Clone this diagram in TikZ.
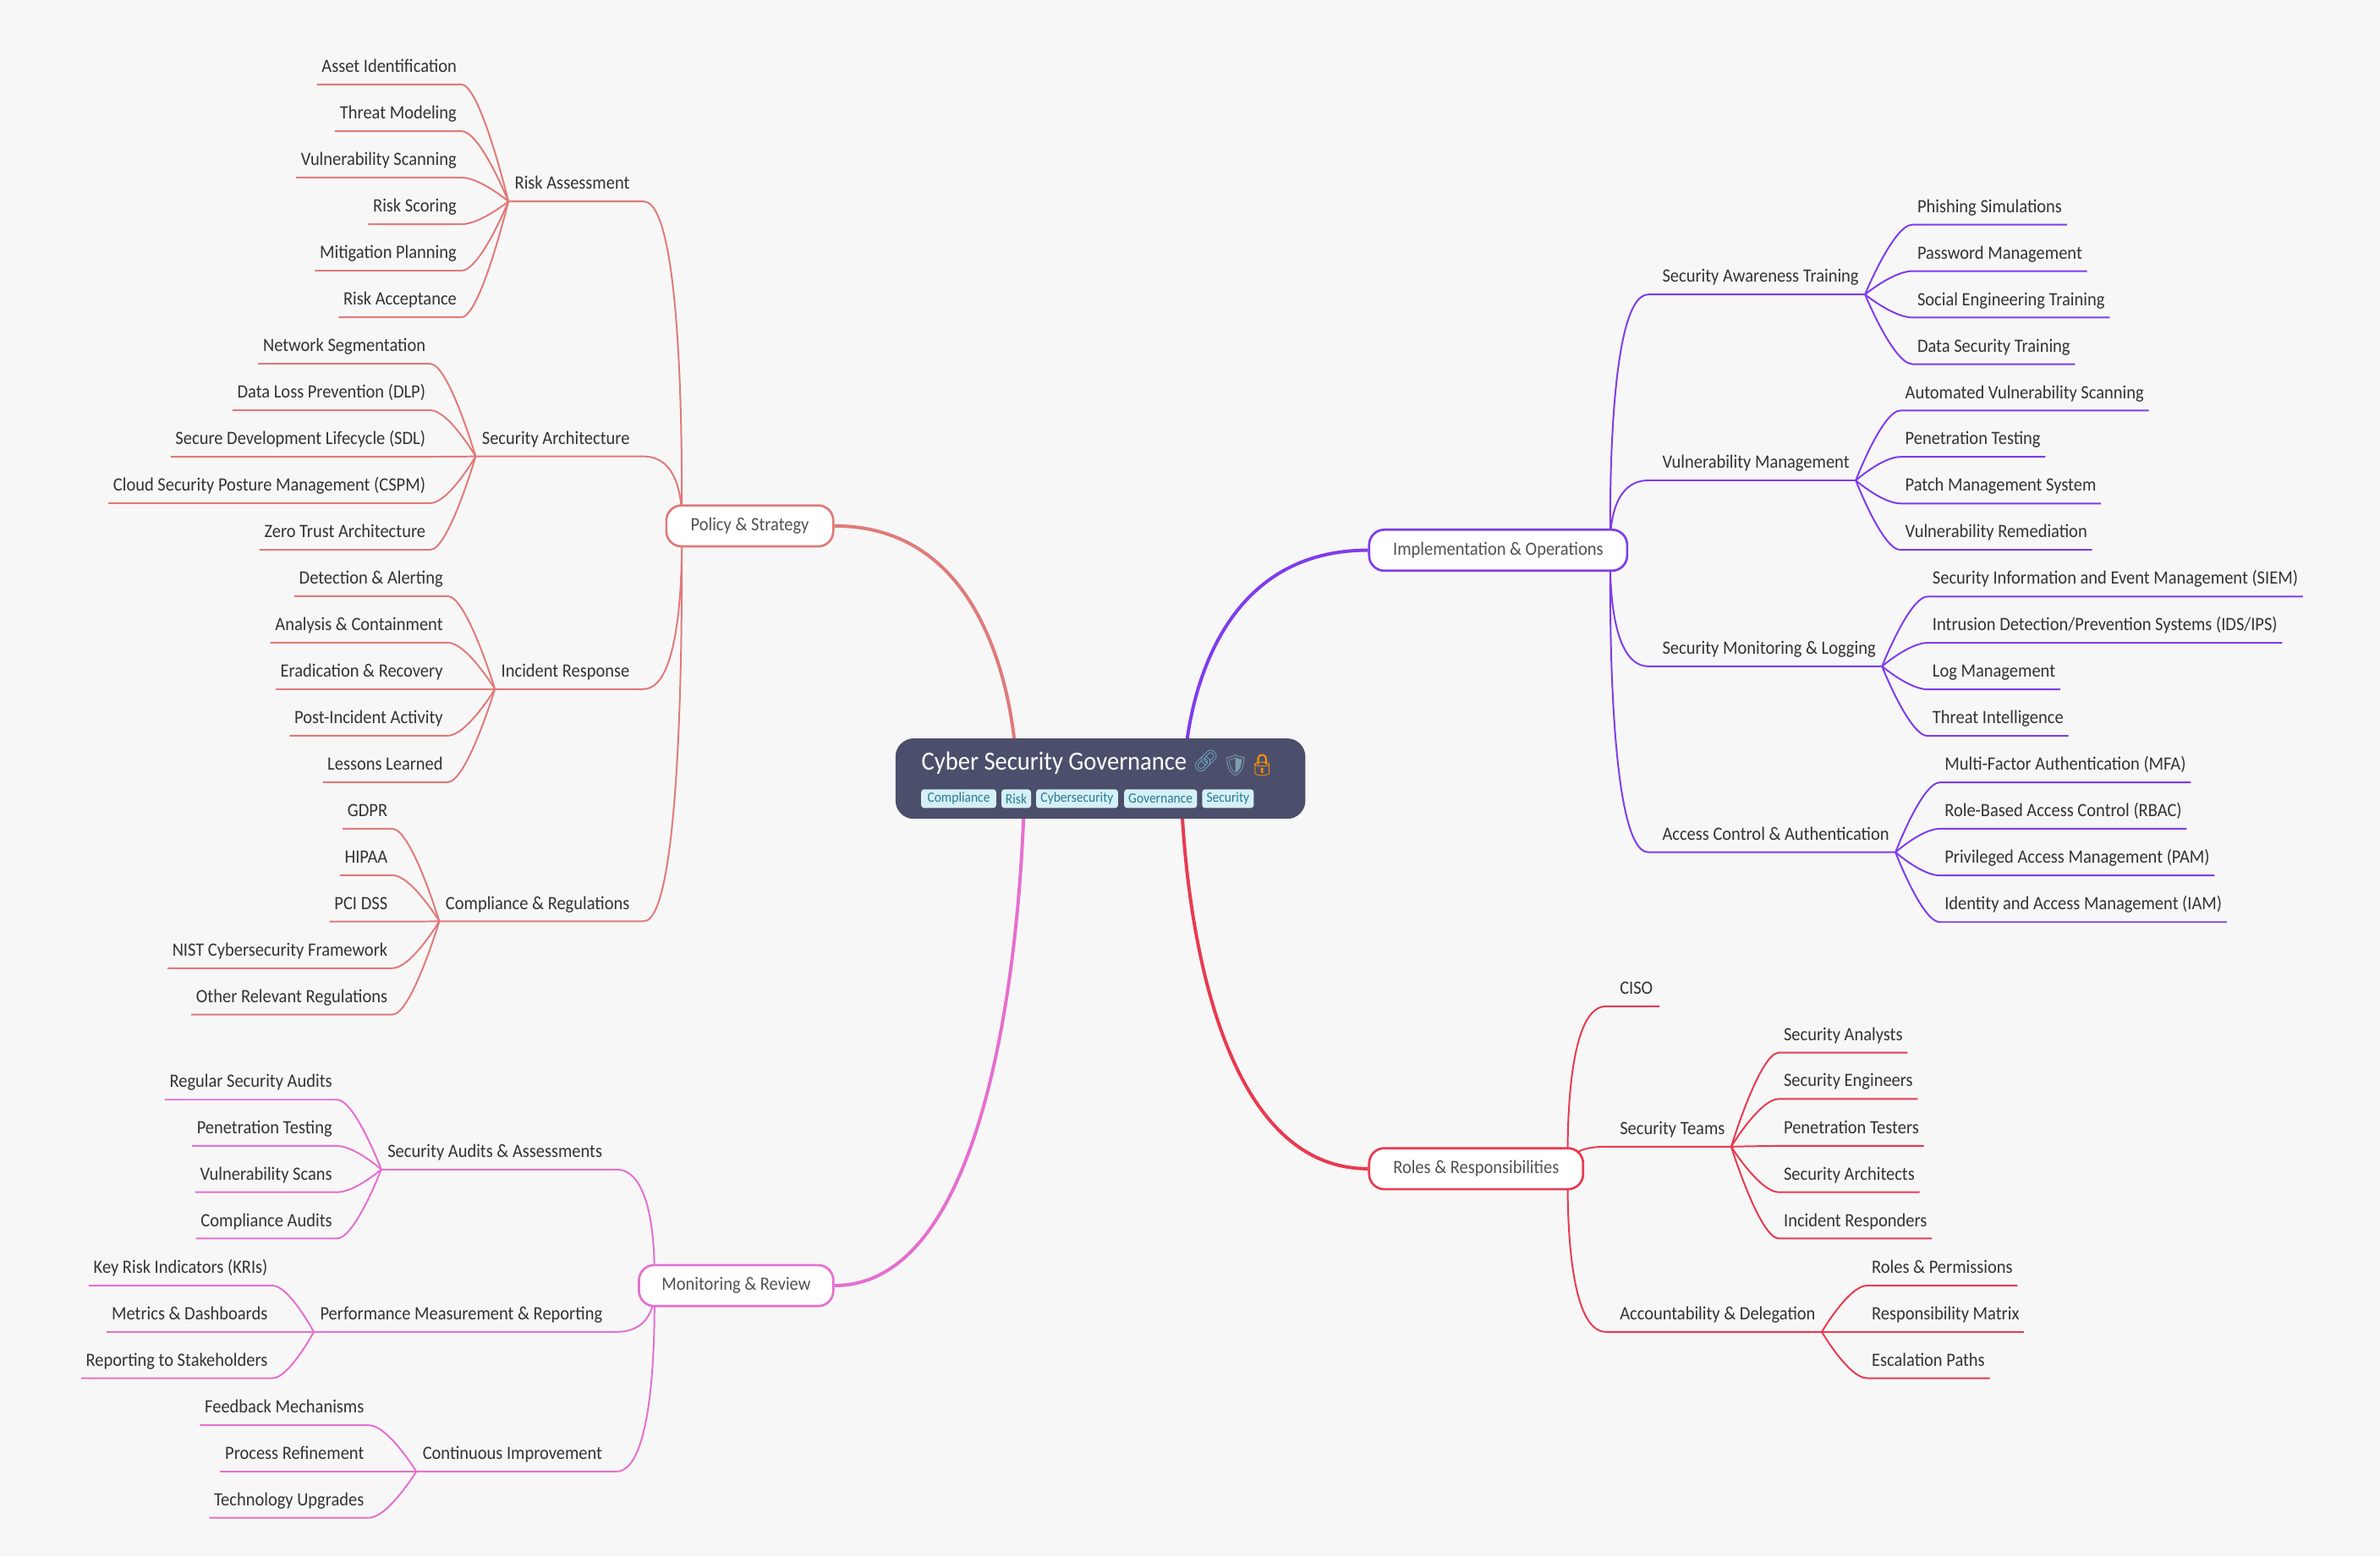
\documentclass[tikz,border=0pt]{standalone}
\usepackage{fontspec}
\setmainfont[FakeStretch=0.92]{Carlito}
\newfontfamily\emojifont{Noto Emoji}
\usetikzlibrary{calc,backgrounds}
\definecolor{pagebg}{HTML}{F7F7F7}
\definecolor{policyred}{HTML}{E07A7A}
\definecolor{implpurple}{HTML}{7F3CEB}
\definecolor{rolescrimson}{HTML}{E83A50}
\definecolor{monitorpink}{HTML}{E56FCF}
\definecolor{rootfill}{HTML}{4C4F6B}
\definecolor{tagfill}{HTML}{D5F0F7}
\definecolor{tagtext}{HTML}{2A7A90}
\definecolor{labeltext}{HTML}{333333}
\tikzset{
  limb/.style={to path={.. controls (\tikztostart) and ($(\tikztotarget)!#1!(\tikztostart |- \tikztotarget)$) .. (\tikztotarget)}},
  limb/.default=0.4,
  twig/.style={line width=1.1pt},
  bough/.style={line width=2.2pt},
  label/.style={font=\fontsize{12.4}{14}\selectfont,text=labeltext,text height=10pt,text depth=4pt,inner ysep=3.8pt,inner xsep=0pt},
  leafl/.style={label,anchor=south east,inner xsep=3pt},
  leafr/.style={label,anchor=south west,inner xsep=3pt},
  midl/.style={label,anchor=south east,inner xsep=4pt,execute at end node={\hspace{5pt}}},
  midr/.style={label,anchor=south west,inner xsep=4pt,execute at begin node={\hspace*{5pt}}},
  mainbox/.style={draw,fill=white,rounded corners=10pt,line width=1.5pt,minimum height=27pt,inner sep=0pt,text=labeltext!85!white,font=\fontsize{12.4}{14}\selectfont},
  tagbox/.style={fill=tagfill,text=tagtext,rounded corners=2pt,minimum height=12.3pt,inner sep=0pt,font=\fontsize{9.4}{10}\selectfont},
  emoji/.style={inner sep=0pt,font=\emojifont\fontsize{14}{14}\selectfont}
}
\begin{document}
\begin{tikzpicture}[x=1pt,y=-1pt]
    \useasboundingbox (0,0) rectangle (1568,1025.28);

    %Centre
    \node[fill=rootfill,rounded corners=12pt,minimum width=270pt,minimum height=53pt] (root) at (725,513) {};
    \node[anchor=west,inner sep=0pt,text=white,font=\fontsize{17.3}{19}\selectfont] (title) at (607,503) {Cyber Security Governance};
    \node[emoji,text=cyan!45!gray] (linkicon) at (794.5,501.5) {🔗};
    \node[emoji,text=gray!70!cyan] (shieldicon) at (814,504) {🛡};
    \node[emoji,text=orange!85!yellow] (lockicon) at (831.5,504) {🔒};
    \node[tagbox,minimum width=49.5pt] (tagcompliance) at (631.6,526.2) {Compliance};
    \node[tagbox,minimum width=19.5pt] (tagrisk) at (669.5,526.2) {Risk};
    \node[tagbox,minimum width=54pt] (tagcyber) at (709.6,526.2) {Cybersecurity};
    \node[tagbox,minimum width=48pt] (taggov) at (764.6,526.2) {Governance};
    \node[tagbox,minimum width=34pt] (tagsecurity) at (809,526.2) {Security};

    %Grands noeuds
    \node[mainbox,draw=policyred,minimum width=110pt] (policy) at (494,346.5) {Policy \& Strategy};
    \node[mainbox,draw=implpurple,minimum width=170pt] (impl) at (987,362.5) {Implementation \& Operations};
    \node[mainbox,draw=rolescrimson,minimum width=141pt] (roles) at (972.5,770) {Roles \& Responsibilities};
    \node[mainbox,draw=monitorpink,minimum width=128pt] (monitor) at (485,847) {Monitoring \& Review};
    \coordinate (policyroot) at (449,346.5);
    \coordinate (implroot) at (1061,362.5);
    \coordinate (rolesroot) at (1033,770);
    \coordinate (monitorroot) at (431,847);
    \coordinate (rootpolicy) at (670,512);
    \coordinate (rootimpl) at (780,512);
    \coordinate (rootroles) at (778,512);
    \coordinate (rootmonitor) at (675,512);

    %Policy
    \node[midl] (riskassess) at (424,132.7) {Risk Assessment};
    \node[midl] (secarch) at (424,300.7) {Security Architecture};
    \node[midl] (incident) at (424,454) {Incident Response};
    \node[midl] (compreg) at (424,607) {Compliance \& Regulations};
    \node[leafl] (asset) at (304,55.7) {Asset Identification};
    \node[leafl] (threatmodel) at (304,86.4) {Threat Modeling};
    \node[leafl] (vulnscan) at (304,117) {Vulnerability Scanning};
    \node[leafl] (riskscore) at (304,147.7) {Risk Scoring};
    \node[leafl] (mitigation) at (304,178.3) {Mitigation Planning};
    \node[leafl] (riskaccept) at (304,209) {Risk Acceptance};
    \node[leafl] (netseg) at (283.5,239.7) {Network Segmentation};
    \node[leafl] (dlp) at (283.5,270.3) {Data Loss Prevention (DLP)};
    \node[leafl] (sdl) at (283.5,300.9) {Secure Development Lifecycle (SDL)};
    \node[leafl] (cspm) at (283.5,331.5) {Cloud Security Posture Management (CSPM)};
    \node[leafl] (zerotrust) at (283.5,362.2) {Zero Trust Architecture};
    \node[leafl] (detection) at (295,392.8) {Detection \& Alerting};
    \node[leafl] (analysis) at (295,423.4) {Analysis \& Containment};
    \node[leafl] (eradication) at (295,454) {Eradication \& Recovery};
    \node[leafl] (postinc) at (295,484.7) {Post-Incident Activity};
    \node[leafl] (lessons) at (295,515.3) {Lessons Learned};
    \node[leafl] (gdpr) at (258.5,546) {GDPR};
    \node[leafl] (hipaa) at (258.5,576.6) {HIPAA};
    \node[leafl] (pcidss) at (258.5,607.2) {PCI DSS};
    \node[leafl] (nist) at (258.5,637.9) {NIST Cybersecurity Framework};
    \node[leafl] (otherreg) at (258.5,668.5) {Other Relevant Regulations};

    %Monitoring
    \node[midl] (audits) at (406,770.5) {Security Audits \& Assessments};
    \node[midl] (perf) at (406,877.5) {Performance Measurement \& Reporting};
    \node[midl] (contimp) at (406,969.5) {Continuous Improvement};
    \node[leafl] (regaudits) at (222,724.5) {Regular Security Audits};
    \node[leafl] (pentestl) at (222,755) {Penetration Testing};
    \node[leafl] (vulnscans) at (222,785.5) {Vulnerability Scans};
    \node[leafl] (compaudits) at (222,816) {Compliance Audits};
    \node[leafl] (kri) at (179.5,847) {Key Risk Indicators (KRIs)};
    \node[leafl] (metrics) at (179.5,877.5) {Metrics \& Dashboards};
    \node[leafl] (stakeholders) at (179.5,908) {Reporting to Stakeholders};
    \node[leafl] (feedback) at (243,939) {Feedback Mechanisms};
    \node[leafl] (refine) at (243,969.5) {Process Refinement};
    \node[leafl] (upgrades) at (243,1000) {Technology Upgrades};

    %Implementation
    \node[midr] (awareness) at (1086,194) {Security Awareness Training};
    \node[midr] (vulnman) at (1086,316.5) {Vulnerability Management};
    \node[midr] (seclog) at (1086,439) {Security Monitoring \& Logging};
    \node[midr] (access) at (1086,561.5) {Access Control \& Authentication};
    \node[leafr] (phishing) at (1260,148) {Phishing Simulations};
    \node[leafr] (password) at (1260,178.6) {Password Management};
    \node[leafr] (social) at (1260,209.2) {Social Engineering Training};
    \node[leafr] (datasec) at (1260,239.9) {Data Security Training};
    \node[leafr] (autoscan) at (1252,270.5) {Automated Vulnerability Scanning};
    \node[leafr] (pentestr) at (1252,301) {Penetration Testing};
    \node[leafr] (patch) at (1252,331.7) {Patch Management System};
    \node[leafr] (remediation) at (1252,362.3) {Vulnerability Remediation};
    \node[leafr] (siem) at (1270,393) {Security Information and Event Management (SIEM)};
    \node[leafr] (ids) at (1270,423.5) {Intrusion Detection/Prevention Systems (IDS/IPS)};
    \node[leafr] (logman) at (1270,454.2) {Log Management};
    \node[leafr] (threatintel) at (1270,484.9) {Threat Intelligence};
    \node[leafr] (mfa) at (1278,515.5) {Multi-Factor Authentication (MFA)};
    \node[leafr] (rbac) at (1278,546) {Role-Based Access Control (RBAC)};
    \node[leafr] (pam) at (1278,576.8) {Privileged Access Management (PAM)};
    \node[leafr] (iam) at (1278,607.5) {Identity and Access Management (IAM)};

    %Roles
    \node[leafr,inner xsep=4pt,execute at begin node={\hspace*{5pt}}] (ciso) at (1058,663) {CISO};
    \node[midr] (teams) at (1058,755.5) {Security Teams};
    \node[midr] (delegation) at (1058,877.5) {Accountability \& Delegation};
    \node[leafr] (analysts) at (1172,693.5) {Security Analysts};
    \node[leafr] (engineers) at (1172,724) {Security Engineers};
    \node[leafr] (testers) at (1172,755) {Penetration Testers};
    \node[leafr] (architects) at (1172,785.5) {Security Architects};
    \node[leafr] (responders) at (1172,816) {Incident Responders};
    \node[leafr] (permissions) at (1230,847) {Roles \& Permissions};
    \node[leafr] (matrix) at (1230,877.5) {Responsibility Matrix};
    \node[leafr] (escalation) at (1230,908) {Escalation Paths};

    \begin{scope}[on background layer]
    \fill[pagebg] (0,0) rectangle (1568,1025.28);

    %Traits principaux
    \draw[bough,policyred] (rootpolicy) to[limb=1] (policy.east);
    \draw[bough,implpurple] (rootimpl) to[limb=1] (impl.west);
    \draw[bough,rolescrimson] (rootroles) to[limb=1] (roles.west);
    \draw[bough,monitorpink] (rootmonitor) to[limb=1] (monitor.east);

    %Policy
    \draw[twig,policyred] (policyroot) to[limb=1.15] (riskassess.south east) -- (riskassess.south west);
    \draw[twig,policyred] (policyroot) to[limb=1.15] (secarch.south east) -- (secarch.south west);
    \draw[twig,policyred] (policyroot) to[limb=1.15] (incident.south east) -- (incident.south west);
    \draw[twig,policyred] (policyroot) to[limb=1.15] (compreg.south east) -- (compreg.south west);
    \draw[twig,policyred] (riskassess.south west) to[limb] (asset.south east) -- (asset.south west);
    \draw[twig,policyred] (riskassess.south west) to[limb] (threatmodel.south east) -- (threatmodel.south west);
    \draw[twig,policyred] (riskassess.south west) to[limb] (vulnscan.south east) -- (vulnscan.south west);
    \draw[twig,policyred] (riskassess.south west) to[limb] (riskscore.south east) -- (riskscore.south west);
    \draw[twig,policyred] (riskassess.south west) to[limb] (mitigation.south east) -- (mitigation.south west);
    \draw[twig,policyred] (riskassess.south west) to[limb] (riskaccept.south east) -- (riskaccept.south west);
    \draw[twig,policyred] (secarch.south west) to[limb] (netseg.south east) -- (netseg.south west);
    \draw[twig,policyred] (secarch.south west) to[limb] (dlp.south east) -- (dlp.south west);
    \draw[twig,policyred] (secarch.south west) to[limb] (sdl.south east) -- (sdl.south west);
    \draw[twig,policyred] (secarch.south west) to[limb] (cspm.south east) -- (cspm.south west);
    \draw[twig,policyred] (secarch.south west) to[limb] (zerotrust.south east) -- (zerotrust.south west);
    \draw[twig,policyred] (incident.south west) to[limb] (detection.south east) -- (detection.south west);
    \draw[twig,policyred] (incident.south west) to[limb] (analysis.south east) -- (analysis.south west);
    \draw[twig,policyred] (incident.south west) to[limb] (eradication.south east) -- (eradication.south west);
    \draw[twig,policyred] (incident.south west) to[limb] (postinc.south east) -- (postinc.south west);
    \draw[twig,policyred] (incident.south west) to[limb] (lessons.south east) -- (lessons.south west);
    \draw[twig,policyred] (compreg.south west) to[limb] (gdpr.south east) -- (gdpr.south west);
    \draw[twig,policyred] (compreg.south west) to[limb] (hipaa.south east) -- (hipaa.south west);
    \draw[twig,policyred] (compreg.south west) to[limb] (pcidss.south east) -- (pcidss.south west);
    \draw[twig,policyred] (compreg.south west) to[limb] (nist.south east) -- (nist.south west);
    \draw[twig,policyred] (compreg.south west) to[limb] (otherreg.south east) -- (otherreg.south west);

    %Monitoring
    \draw[twig,monitorpink] (monitorroot) to[limb=1.15] (audits.south east) -- (audits.south west);
    \draw[twig,monitorpink] (monitorroot) to[limb=1.15] (perf.south east) -- (perf.south west);
    \draw[twig,monitorpink] (monitorroot) to[limb=1.15] (contimp.south east) -- (contimp.south west);
    \draw[twig,monitorpink] (audits.south west) to[limb] (regaudits.south east) -- (regaudits.south west);
    \draw[twig,monitorpink] (audits.south west) to[limb] (pentestl.south east) -- (pentestl.south west);
    \draw[twig,monitorpink] (audits.south west) to[limb] (vulnscans.south east) -- (vulnscans.south west);
    \draw[twig,monitorpink] (audits.south west) to[limb] (compaudits.south east) -- (compaudits.south west);
    \draw[twig,monitorpink] (perf.south west) to[limb] (kri.south east) -- (kri.south west);
    \draw[twig,monitorpink] (perf.south west) to[limb] (metrics.south east) -- (metrics.south west);
    \draw[twig,monitorpink] (perf.south west) to[limb] (stakeholders.south east) -- (stakeholders.south west);
    \draw[twig,monitorpink] (contimp.south west) to[limb] (feedback.south east) -- (feedback.south west);
    \draw[twig,monitorpink] (contimp.south west) to[limb] (refine.south east) -- (refine.south west);
    \draw[twig,monitorpink] (contimp.south west) to[limb] (upgrades.south east) -- (upgrades.south west);

    %Implementation
    \draw[twig,implpurple] (implroot) to[limb=1.15] (awareness.south west) -- (awareness.south east);
    \draw[twig,implpurple] (implroot) to[limb=1.15] (vulnman.south west) -- (vulnman.south east);
    \draw[twig,implpurple] (implroot) to[limb=1.15] (seclog.south west) -- (seclog.south east);
    \draw[twig,implpurple] (implroot) to[limb=1.15] (access.south west) -- (access.south east);
    \draw[twig,implpurple] (awareness.south east) to[limb] (phishing.south west) -- (phishing.south east);
    \draw[twig,implpurple] (awareness.south east) to[limb] (password.south west) -- (password.south east);
    \draw[twig,implpurple] (awareness.south east) to[limb] (social.south west) -- (social.south east);
    \draw[twig,implpurple] (awareness.south east) to[limb] (datasec.south west) -- (datasec.south east);
    \draw[twig,implpurple] (vulnman.south east) to[limb] (autoscan.south west) -- (autoscan.south east);
    \draw[twig,implpurple] (vulnman.south east) to[limb] (pentestr.south west) -- (pentestr.south east);
    \draw[twig,implpurple] (vulnman.south east) to[limb] (patch.south west) -- (patch.south east);
    \draw[twig,implpurple] (vulnman.south east) to[limb] (remediation.south west) -- (remediation.south east);
    \draw[twig,implpurple] (seclog.south east) to[limb] (siem.south west) -- (siem.south east);
    \draw[twig,implpurple] (seclog.south east) to[limb] (ids.south west) -- (ids.south east);
    \draw[twig,implpurple] (seclog.south east) to[limb] (logman.south west) -- (logman.south east);
    \draw[twig,implpurple] (seclog.south east) to[limb] (threatintel.south west) -- (threatintel.south east);
    \draw[twig,implpurple] (access.south east) to[limb] (mfa.south west) -- (mfa.south east);
    \draw[twig,implpurple] (access.south east) to[limb] (rbac.south west) -- (rbac.south east);
    \draw[twig,implpurple] (access.south east) to[limb] (pam.south west) -- (pam.south east);
    \draw[twig,implpurple] (access.south east) to[limb] (iam.south west) -- (iam.south east);

    %Roles
    \draw[twig,rolescrimson] (rolesroot) to[limb=1.15] (ciso.south west) -- (ciso.south east);
    \draw[twig,rolescrimson] (rolesroot) to[limb=1.15] (teams.south west) -- (teams.south east);
    \draw[twig,rolescrimson] (rolesroot) to[limb=1.15] (delegation.south west) -- (delegation.south east);
    \draw[twig,rolescrimson] (teams.south east) to[limb] (analysts.south west) -- (analysts.south east);
    \draw[twig,rolescrimson] (teams.south east) to[limb] (engineers.south west) -- (engineers.south east);
    \draw[twig,rolescrimson] (teams.south east) to[limb] (testers.south west) -- (testers.south east);
    \draw[twig,rolescrimson] (teams.south east) to[limb] (architects.south west) -- (architects.south east);
    \draw[twig,rolescrimson] (teams.south east) to[limb] (responders.south west) -- (responders.south east);
    \draw[twig,rolescrimson] (delegation.south east) to[limb] (permissions.south west) -- (permissions.south east);
    \draw[twig,rolescrimson] (delegation.south east) to[limb] (matrix.south west) -- (matrix.south east);
    \draw[twig,rolescrimson] (delegation.south east) to[limb] (escalation.south west) -- (escalation.south east);
    \end{scope}

\end{tikzpicture}
\end{document}
